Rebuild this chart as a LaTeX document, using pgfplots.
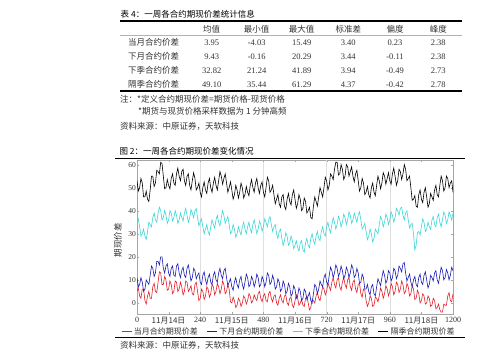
\documentclass[border=0pt]{standalone}
\usepackage{fontspec}
\setmainfont{Liberation Serif}
\newfontfamily\cjk{Noto Sans CJK SC}
\usepackage{pgfplots}
\pgfplotsset{compat=1.18}
\usepackage{pgfplotstable}
\definecolor{cRed}{HTML}{E0202A}
\definecolor{cBlue}{HTML}{1A1AB4}
\definecolor{cCyan}{HTML}{3ED6D6}
\definecolor{txt}{HTML}{333333}
\pgfplotstableread{
x M D C B
0 5 11 35 53
5 6.5 7 36.5 48.5
10 3 8 33 50
15 2 11 29 54
20 6 9 30 52
25 6 5 32 46
30 1 6 29 46
35 -0.5 10 27.5 48.5
40 3 9 31 45
45 5 8 35 44
50 2 12 34 49
55 2 16 33 55
60 7 15 37 55
65 8.5 11.5 39 50.5
70 5 13 36 52
75 4.5 18 35 57.5
80 9 18 39 57
85 13.5 16.5 41.5 56
90 13 20 40 61
95 8 20 36 60.5
100 8 15 37 55
105 11.5 13 40 49.5
110 10 16 38 50
115 5.5 17 34.5 53.5
120 6 13 36 51
125 9.5 11.5 40 49.5
130 8 15 39 54
135 4 16 35.5 56
140 5 12 37 52
145 9.5 11.5 40 51
150 9 16 38 56
155 5 17 34.5 58.5
160 6 13 36 55
165 9 11 39 53
170 7 14 37 57
175 3.5 15.5 35.5 58
180 5 12 39 53
185 9.5 11 41 51
190 9 15 38 55
195 5 16.5 35 56
200 6 13 37 51
205 7.5 9.5 40.5 49
210 4 11 39 53
215 3.5 15 37 56.5
220 8 14 40 54
225 9 10.5 41 49
230 5 12 37 50
235 1 13 33.5 52
240 2 9 35 48
245 6 8 36.5 46
250 5 12 33 50
255 1.5 13.5 30 52.5
260 3 10 32 49
265 7 8 34 47.5
270 6 11 31 52
275 2.5 12.5 29.5 54
280 4 9 33 50
285 8 8 36 48
290 7 12 34 52
295 3.5 13.5 32.5 54.5
300 5 10 36 51
305 8.5 9 38 49
310 7 13 35 53
315 4 15 33.5 57
320 6 12 37 55
325 9.5 10.5 40 51.5
330 8 14 38 54
335 4 15 34.5 56
340 5 11 36 52
345 8 7.5 37.5 48
350 6 9 34 50
355 0.5 10.5 30 52.5
360 0 7 31 49
365 2.5 5.5 34 45
370 1 9 32 47
375 -2 11 28.5 51
380 -1 8 30 49
385 2 6.5 33 45.5
390 1 10 31 48
395 -1.5 11.5 29.5 52
400 0 8 33 50
405 3 6 35 45.5
410 2 9 32 47
415 -0.5 12.5 30 50.5
420 1 11 33 48
425 4 7 35 46.5
430 3 8 32 51
435 0 11.5 30.5 53.5
440 1 10 34 50
445 3.5 7 36 48
450 2 9 33 52
455 1 12.5 30 54
460 4 11 32 50
465 5 7 35.5 47.5
470 2 8 34 51
475 0.5 11.5 31 52.5
480 3 10 33 48
485 4 7 36.5 46
490 1 9 35 50
495 0.5 13 33 54.5
500 4 12 36 53
505 5 8 37.5 48
510 2 9 34 49
515 0.5 12 31 51
520 3 10 33 47
525 3.5 6 34 43
530 0 7 30 45
535 -1 10.5 28 47
540 2 9 31 43
545 3.5 5 32 41.5
550 1 6 28 46
555 0 9.5 25 47
560 3 8 27 42
565 3.5 4 30.5 40.5
570 0 5 29 45
575 -1 8.5 25 47.5
580 2 7 26 44
585 2.5 3 29 42.5
590 -1 4 27 47
595 -2 7.5 23.5 49
600 1 6 25 45
605 3.5 2 27 41
610 2 3 24 43
615 -1 6.5 22.5 47
620 0 5 26 45
625 1.5 1 27 40
630 -1 2 23 41
635 -1.5 6 22 45.5
640 2 5 26 44
645 3 1.5 28 39
650 0 3 25 40
655 -3 4.5 24 41.5
660 -2 1 28 37
665 1.5 0 30 36.5
670 1 4 27 42
675 0 8 25.5 46
680 3 7 29 44
685 4.5 4 31 42
690 2 6 28 46
695 1 9.5 27 50
700 4 8 31 48
705 7 7 33 46
710 6 11 30 50
715 3.5 12.5 29 54.5
720 5 9 33 53
725 8.5 8 35 49
730 7 12 32 51
735 5.5 15.5 30.5 56
740 9 14 34 55
745 11 11 37 53.5
750 8 13 35 58
755 6.5 16.5 32 61
760 10 15 34 61
765 11 11.5 37.5 55.5
770 7 13 36 56
775 5.5 16 33 60
780 9 14 35 58
785 11 10.5 38.5 53.5
790 8 12 37 55
795 6.5 15.5 34 60
800 10 14 36 59
805 11 11 39.5 55
810 7 13 38 57
815 5.5 16.5 34.5 59
820 9 15 36 55
825 10 11 39 52.5
830 6 12 37 56
835 4.5 15 35 57.5
840 8 13 38 53
845 8.5 8.5 39.5 48.5
850 4 9 36 50
855 2.5 12.5 32 54
860 6 11 33 52
865 5.5 6 34.5 47
870 1 6 31 48
875 -1.5 8 27.5 50.5
880 0 5 29 47
885 3 3.5 32 45.5
890 2 7 30 50
895 -1.5 8 26.5 52
900 -1 4 28 48
905 2.5 3 32 46.5
910 2 7 31 51
915 0.5 10.5 30 55
920 3 9 34 53
925 6.5 7.5 37.5 49.5
930 5 11 36 52
935 2 14 33 56.5
940 4 12 35 55
945 7.5 8.5 38.5 51.5
950 6 10 37 54
955 3 14 34 56.5
960 5 13 36 53
965 8.5 9.5 39.5 51.5
970 7 11 38 56
975 3.5 15 35 58.5
980 5 14 37 55
985 9 10.5 41 51
990 8 12 40 53
995 4.5 16 38 58
1000 6 15 41 57
1005 9.5 13.5 41.5 53.5
1010 8 17 38 56
1015 4 17.5 36 60
1020 5 13 39 58
1025 8.5 9.5 40 53
1030 7 11 36 54
1035 3 12.5 32.5 55
1040 4 9 34 50
1045 7.5 7 34.5 44.5
1050 6 10 30 45
1055 1.5 11.5 23 46.5
1060 2 8 25 42
1065 5.5 7 30.5 41.5
1070 4 11 31 47
1075 0 12.5 29.5 49
1080 1 9 33 45
1085 4 8 36.5 43.5
1090 3 12 35 48
1095 -0.5 13.5 31 50
1100 0 10 32 46
1105 3 6.5 35 41.5
1110 2 8 33 43
1115 -1.5 12 32 47.5
1120 -1 11 36 46
1125 2 9.5 37.5 44.5
1130 1 13 34 49
1135 -2.5 14 33 51
1140 -2 10 37 47
1145 -0.5 8.5 38.5 46
1150 -3 12 35 51
1155 -4 15.5 33 55
1160 -4 14 36 53
1165 -0.5 10 39.5 48.5
1170 -1 11 38 50
1175 -1 14.5 34.5 55
1180 3 13 36 54
1185 4.5 10 39.5 50
1190 1 12 38 52
1195 0.5 15.5 36 53
1200 4 14 39 48
}\data
\begin{document}
\begin{tikzpicture}
\useasboundingbox (0pt,0pt) rectangle (500pt,358pt);
\fill[white] (0pt,0pt) rectangle (500pt,358pt);
% table
\tikzset{cj/.style={font=\fontsize{8.5}{10}\selectfont\cjk, text=txt, inner sep=0pt},
         nm/.style={font=\fontsize{8.5}{10}\selectfont, text=txt, inner sep=0pt}}
\node[cj, anchor=west, text=black] at (120.5pt,344pt) {表 4：一周各合约期现价差统计信息};
\draw[line width=1.3pt] (120pt,337pt) -- (461.5pt,337pt);
\foreach \xx/\tt in {211.7/均值, 256.7/最小值, 301.7/最大值, 348.3/标准差, 395/偏度, 438.3/峰度}
  \node[cj] at (\xx pt,328.7pt) {\tt};
\draw[line width=0.4pt, gray!60] (120pt,323pt) -- (461.5pt,323pt);
\foreach \yy/\lab/\a/\b/\c/\d/\e/\f in {
  315.3/当月合约价差/3.95/-4.03/15.49/3.40/0.23/2.38,
  301.3/下月合约价差/9.43/-0.16/20.29/3.44/-0.11/2.38,
  287.3/下季合约价差/32.82/21.24/41.89/3.94/-0.49/2.73,
  273.7/隔季合约价差/49.10/35.44/61.29/4.37/-0.42/2.78}{
  \node[cj, anchor=west] at (128pt,\yy pt) {\lab};
  \node[nm] at (211.7pt,\yy pt) {\a};
  \node[nm] at (256.7pt,\yy pt) {\b};
  \node[nm] at (301.7pt,\yy pt) {\c};
  \node[nm] at (348.3pt,\yy pt) {\d};
  \node[nm] at (395pt,\yy pt) {\e};
  \node[nm] at (438.3pt,\yy pt) {\f};
}
\draw[line width=1.3pt] (120pt,267pt) -- (461.5pt,267pt);
\node[cj, anchor=west] at (120pt,258.7pt) {注：*定义合约期现价差=期货价格-现货价格};
\node[cj, anchor=west] at (138pt,246.3pt) {*期货与现货价格采样数据为 1 分钟高频};
\node[cj, anchor=west] at (120pt,232pt) {资料来源：中原证券，天软科技};
% figure
\node[cj, anchor=west, text=black] at (119.3pt,206.3pt) {图 2：一周各合约期现价差变化情况};
\draw[line width=1.3pt] (115pt,199.7pt) -- (465pt,199.7pt);
\draw[line width=1.3pt] (115pt,20.3pt) -- (465pt,20.3pt);
\node[cj, anchor=west] at (120pt,13pt) {资料来源：中原证券，天软科技};
\begin{axis}[
  at={(137pt,44pt)}, anchor=south west,
  width=316pt, height=154pt, scale only axis,
  xmin=0, xmax=1200, ymin=-4.8, ymax=62,
  axis line style={gray!70},
  xtick={0,120,...,1200},
  xticklabels={0,{\cjk 11月14日},240,{\cjk 11月15日},480,{\cjk 11月16日},720,{\cjk 11月17日},960,{\cjk 11月18日},1200},
  ytick={0,10,...,60},
  tick style={gray!70},
  major tick length=2pt,
  tick label style={font=\fontsize{8}{9}\selectfont, text=txt},
  yticklabel style={font=\fontsize{7.5}{9}\selectfont, inner sep=1pt},
  /pgf/number format/assume math mode=true,
  extra x ticks={240,480,720,960},
  extra x tick labels={},
  extra x tick style={grid=major, major grid style={gray!25, line width=0.4pt}},
  ylabel={\cjk 期现价差},
  ylabel style={font=\fontsize{8.5}{10}\selectfont, text=txt, at={(axis description cs:-0.06,0.48)}, anchor=center},
  legend columns=4,
  legend style={draw=none, fill=none, at={(0.481,-0.115)}, anchor=center,
    font=\fontsize{8}{9}\selectfont\cjk, text=txt, inner sep=0pt,
    /tikz/every even column/.append style={column sep=7pt}},
  legend image code/.code={\draw[#1, line width=0.6pt] (0pt,0pt) -- (10pt,0pt);},
  clip=true,
]
\addplot[cRed, line width=0.6pt] table[x=x, y=M]{\data};
\addlegendentry{当月合约期现价差}
\addplot[cBlue, line width=0.6pt] table[x=x, y=D]{\data};
\addlegendentry{下月合约期现价差}
\addplot[cCyan, line width=0.6pt] table[x=x, y=C]{\data};
\addlegendentry{下季合约期现价差}
\addplot[black, line width=0.6pt] table[x=x, y=B]{\data};
\addlegendentry{隔季合约期现价差}
\end{axis}
\end{tikzpicture}
\end{document}
